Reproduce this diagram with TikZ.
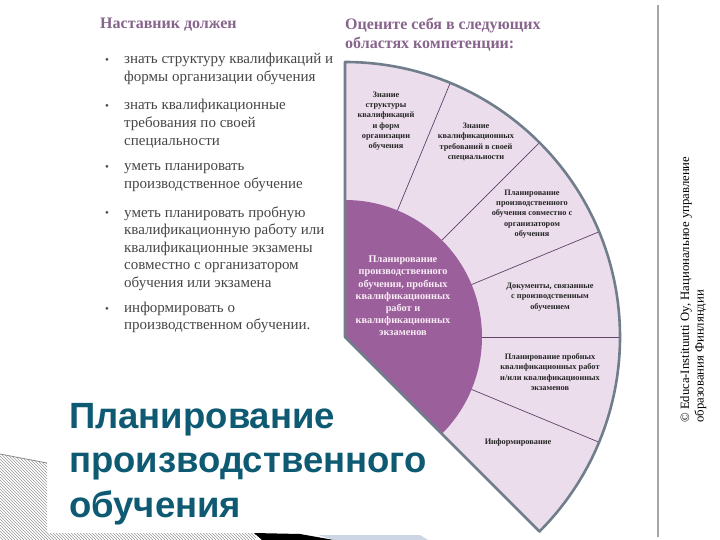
\documentclass[tikz,border=0pt]{standalone}
\usepackage{fontspec}
\setmainfont{Liberation Serif}
\newfontfamily\titlefont{Liberation Sans}
\usetikzlibrary{positioning,calc,patterns}
\definecolor{mauve}{RGB}{135,100,140}
\definecolor{bodygray}{RGB}{70,70,70}
\definecolor{teal}{RGB}{14,90,115}
\definecolor{ringfill}{RGB}{236,221,236}
\definecolor{corefill}{RGB}{155,96,155}
\definecolor{rimgray}{RGB}{112,126,140}
\definecolor{divider}{RGB}{95,65,105}
\definecolor{coretext}{RGB}{250,236,246}
\definecolor{stripblue}{RGB}{205,214,228}

\begin{document}
\begin{tikzpicture}[x=1pt,y=-1pt,
  head/.style={anchor=base west, align=left, inner sep=0, text=mauve, font=\bfseries\fontsize{16}{18.5}\selectfont},
  item/.style={anchor=base west, align=left, inner sep=0, text=bodygray, font=\fontsize{15}{17.6}\selectfont},
  dot/.style={anchor=base west, inner sep=0, text=bodygray, font=\fontsize{11}{13}\selectfont},
  field/.style={align=center, inner sep=0, text=black!85, font=\bfseries\fontsize{8.3}{10.3}\selectfont},
  core/.style={align=center, inner sep=0, text=coretext, font=\bfseries\fontsize{10.3}{12.2}\selectfont},
  title/.style={anchor=base west, align=left, inner sep=0, text=teal, font=\titlefont\bfseries\fontsize{36.5}{44.5}\selectfont}]

\useasboundingbox (0,0) rectangle (720,540);

\fill[pattern=north west lines, pattern color=black!40] (0,454) -- (47,463) -- (47,533) -- (256,533) -- (256,540) -- (0,540) -- cycle;
\draw[black!45, line width=0.8pt] (0,454) -- (47,463);
\fill[black] (254,533) -- (300,534) -- (334,540) -- (262,540) -- cycle;
\fill[stripblue] (318,535) -- (420,535) -- (428,540) -- (334,540) -- cycle;

\node[head] (mentor) at (100,29) {Наставник должен};
\node[head] (assess) at (345,48.5) {Оцените себя в следующих\\областях компетенции:};

\node[dot] (d1) at (105,64) {•};
\node[item] (i1) at (124,81.6) {знать структуру квалификаций и\\формы организации обучения};
\node[dot] (d2) at (105,110) {•};
\node[item] (i2) at (124,145.2) {знать квалификационные\\требования по своей\\специальности};
\node[dot] (d3) at (105,171) {•};
\node[item] (i3) at (124,188.6) {уметь планировать\\производственное обучение};
\node[dot] (d4) at (105,217) {•};
\node[item] (i4) at (124,287.4) {уметь планировать пробную\\квалификационную работу или\\квалификационные экзамены\\совместно с организатором\\обучения или экзамена};
\node[dot] (d5) at (105,312) {•};
\node[item] (i5) at (124,329.6) {информировать о\\производственном обучении.};

\coordinate (hub) at (345,337);
\fill[ringfill] (hub) -- ++(-90:275) arc[start angle=-90, end angle=45, radius=275] -- cycle;
\fill[corefill] (hub) -- ++(-90:137) arc[start angle=-90, end angle=45, radius=137] -- cycle;
\foreach \a in {-67.5,-45,-22.5,0,22.5}
  \draw[divider, line width=0.7pt] ($(hub)+(\a:137)$) -- ($(hub)+(\a:275)$);
\draw[rimgray, line width=2.6pt, line join=round] (hub) -- ++(-90:275) arc[start angle=-90, end angle=45, radius=275] -- cycle;

\node[field] (f1) at (386,121) {Знание\\структуры\\квалификаций\\и форм\\организации\\обучения};
\node[field] (f2) at (476,142) {Знание\\квалификационных\\требований в своей\\специальности};
\node[field] (f3) at (532,214) {Планирование\\производственного\\обучения совместно с\\организатором\\обучения};
\node[field] (f4) at (550,297) {Документы, связанные\\с производственным\\обучением};
\node[field] (f5) at (550,372) {Планирование пробных\\квалификационных работ\\и/или квалификационных\\экзаменов};
\node[field] (f6) at (518,443) {Информирование};
\node[core] (c0) at (403,296) {Планирование\\производственного\\обучения, пробных\\квалификационных\\работ и\\квалификационных\\экзаменов};

\node[title] (heading) at (69,517) {Планирование\\производственного\\обучения};

\draw[black!35, line width=1.2pt] (658,5) -- (658,537);
\node[rotate=90, anchor=north west, align=left, inner sep=0, font=\fontsize{12.7}{14.5}\selectfont] (credit) at (680,423) {© Educa-Instituutti Oy, Национальное управление\\образования Финляндии};

\end{tikzpicture}
\end{document}
